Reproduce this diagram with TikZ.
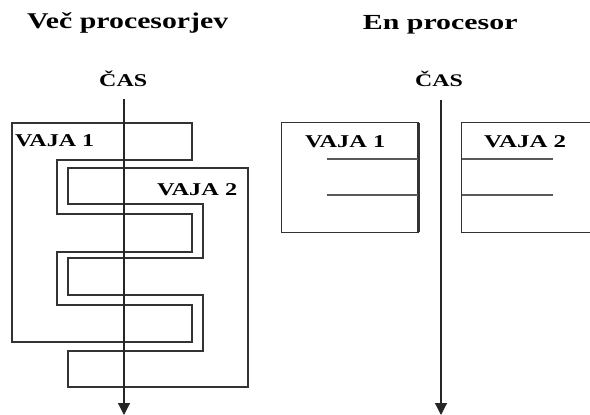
\documentclass[tikz,border=0pt]{standalone}
\usepackage{fontspec}
\setmainfont{Liberation Serif}
\usetikzlibrary{arrows.meta}
% stretched bold label: #1 width, #2 font size, #3 text
\newcommand{\widelabel}[3]{\resizebox{#1pt}{\height}{\fontsize{#2pt}{#2pt}\selectfont\bfseries #3}}
\begin{document}
\begin{tikzpicture}[x=1pt,y=-1pt,
  outline/.style={draw=black!80,line width=1.2pt,line join=miter},
  slot/.style={draw=black!65,line width=2pt},
  timeline/.style={draw=black!85,line width=1.2pt,-{Triangle[width=12pt,length=12pt]}},
  lbl/.style={inner sep=0pt,anchor=base west}]
\useasboundingbox (0,0) rectangle (590,415);

% headings
\node[lbl] (hmulti) at (27,28.3) {\widelabel{201}{22.5}{Več procesorjev}};
\node[lbl] (hsingle) at (362.7,29.3) {\widelabel{154.6}{21.5}{En procesor}};

% ---- several processors: interleaved jobs ----
\draw[outline] (12,123) -- (192,123) -- (192,160) -- (57,160) -- (57,214)
  -- (192,214) -- (192,252) -- (57,252) -- (57,305) -- (192,305)
  -- (192,342) -- (12,342) -- cycle;
\draw[outline] (248,168) -- (68,168) -- (68,204) -- (203,204) -- (203,258)
  -- (68,258) -- (68,295) -- (203,295) -- (203,351) -- (68,351)
  -- (68,387) -- (248,387) -- cycle;
\node[lbl] (j1a) at (15,146.7) {\widelabel{79}{18}{VAJA 1}};
\node[lbl] (j2a) at (157,195) {\widelabel{80}{18}{VAJA 2}};

\node[lbl] (casa) at (99,86) {\widelabel{48}{18}{ČAS}};
\coordinate (ta0) at (124,99);
\coordinate (ta1) at (124,415);
\draw[timeline] (ta0) -- (ta1);

% ---- one processor: jobs side by side ----
\draw[outline] (281.7,122.7) rectangle (418.3,232.3);
\draw[draw=black!80,line width=2.4pt] (418.3,122.7) -- (418.3,232.3);
\draw[slot] (327.3,159.3) -- (418.3,159.3);
\draw[slot] (327.3,195.3) -- (418.3,195.3);
\node[lbl] (j1b) at (305,147.3) {\widelabel{80}{18}{VAJA 1}};

\draw[outline] (595,122.7) -- (461.7,122.7) -- (461.7,232.3) -- (595,232.3);
\draw[slot] (461.7,159.3) -- (552.7,159.3);
\draw[slot] (461.7,195.3) -- (552.7,195.3);
\node[lbl] (j2b) at (484,147.3) {\widelabel{82}{18}{VAJA 2}};

\node[lbl] (casb) at (415,86.7) {\widelabel{47.7}{17.7}{ČAS}};
\coordinate (tb0) at (441,100);
\coordinate (tb1) at (441,415);
\draw[timeline] (tb0) -- (tb1);
\end{tikzpicture}
\end{document}
